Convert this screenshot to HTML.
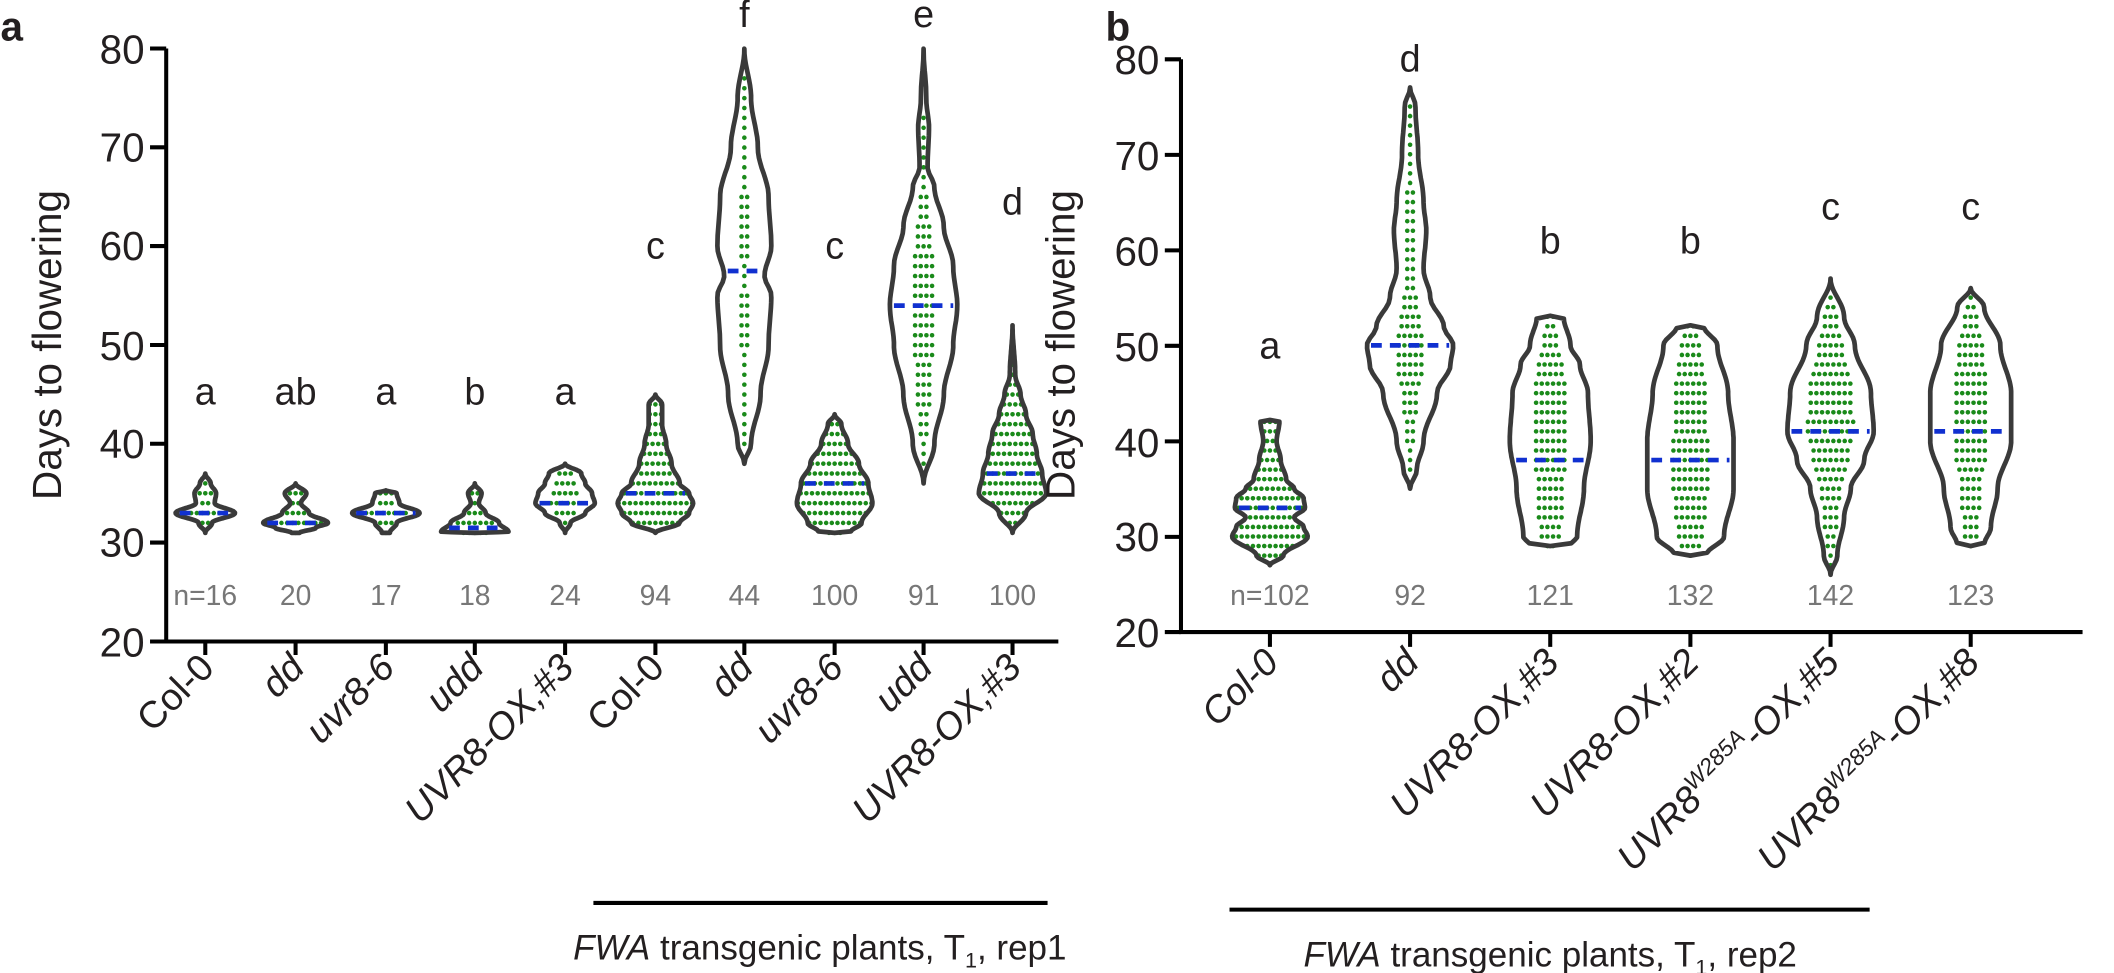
<!DOCTYPE html>
<html><head><meta charset="utf-8"><style>
html,body{margin:0;padding:0;background:#fff;}
svg{display:block;}
text{font-family:"Liberation Sans",Arial,sans-serif;fill:#231f20;}
.tk{font-size:30px;text-anchor:end;}
.lt{font-size:28px;text-anchor:middle;}
.n{font-size:21px;fill:#777;text-anchor:middle;}
.xl{font-size:28px;text-anchor:end;}
.it{font-style:italic;}
</style></head><body>
<svg id="s" width="2114" height="973" viewBox="0 0 1568 722" xmlns="http://www.w3.org/2000/svg">
<g id="viol"></g>
<!-- panel a -->
<text x="0" y="30" style="font-size:30px;font-weight:bold">a</text>
<g stroke="#000" stroke-width="3" fill="none">
<path d="M123 36 V476 H785"/>
<path d="M111 36H123 M111 109.3H123 M111 182.6H123 M111 256H123 M111 329.3H123 M111 402.6H123 M111 476H123"/>
<path d="M152 476v10 M219 476v10 M286 476v10 M352 476v10 M419 476v10 M486 476v10 M552 476v10 M619 476v10 M685 476v10 M751 476v10"/>
<path d="M440 670H777"/>
</g>
<text class="tk" x="107" y="47">80</text><text class="tk" x="107" y="120">70</text><text class="tk" x="107" y="193">60</text><text class="tk" x="107" y="267">50</text><text class="tk" x="107" y="340">40</text><text class="tk" x="107" y="413">30</text><text class="tk" x="107" y="487">20</text>
<text transform="translate(45,256) rotate(-90)" style="font-size:30px;text-anchor:middle">Days to flowering</text>
<text class="lt" x="152" y="300">a</text><text class="lt" x="219" y="300">ab</text><text class="lt" x="286" y="300">a</text><text class="lt" x="352" y="300">b</text><text class="lt" x="419" y="300">a</text><text class="lt" x="486" y="192">c</text><text class="lt" x="552" y="20">f</text><text class="lt" x="619" y="192">c</text><text class="lt" x="685" y="20">e</text><text class="lt" x="751" y="159">d</text>
<text class="n" x="152" y="449">n=16</text><text class="n" x="219" y="449">20</text><text class="n" x="286" y="449">17</text><text class="n" x="352" y="449">18</text><text class="n" x="419" y="449">24</text><text class="n" x="486" y="449">94</text><text class="n" x="552" y="449">44</text><text class="n" x="619" y="449">100</text><text class="n" x="685" y="449">91</text><text class="n" x="751" y="449">100</text>
<text class="xl" transform="translate(160,497) rotate(-45)">Col-0</text>
<text class="xl it" transform="translate(227,497) rotate(-45)">dd</text>
<text class="xl it" transform="translate(294,497) rotate(-45)">uvr8-6</text>
<text class="xl it" transform="translate(360,497) rotate(-45)">udd</text>
<text class="xl it" transform="translate(427,497) rotate(-45)">UVR8-OX,#3</text>
<text class="xl" transform="translate(494,497) rotate(-45)">Col-0</text>
<text class="xl it" transform="translate(560,497) rotate(-45)">dd</text>
<text class="xl it" transform="translate(627,497) rotate(-45)">uvr8-6</text>
<text class="xl it" transform="translate(693,497) rotate(-45)">udd</text>
<text class="xl it" transform="translate(759,497) rotate(-45)">UVR8-OX,#3</text>
<text x="608" y="712" style="font-size:26px;text-anchor:middle"><tspan font-style="italic">FWA</tspan> transgenic plants, T<tspan font-size="16" dy="6">1</tspan><tspan dy="-6">, rep1</tspan></text>
<!-- panel b -->
<text x="820" y="30" style="font-size:30px;font-weight:bold">b</text>
<g stroke="#000" stroke-width="3" fill="none">
<path d="M876 44 V469 H1545"/>
<path d="M864 44H876 M864 114.9H876 M864 185.8H876 M864 256.6H876 M864 327.5H876 M864 398.4H876 M864 469H876"/>
<path d="M942 469v11 M1046 469v11 M1150 469v11 M1254 469v11 M1358 469v11 M1462 469v11"/>
<path d="M912 675H1387"/>
</g>
<text class="tk" x="860" y="55">80</text><text class="tk" x="860" y="126">70</text><text class="tk" x="860" y="197">60</text><text class="tk" x="860" y="268">50</text><text class="tk" x="860" y="339">40</text><text class="tk" x="860" y="409">30</text><text class="tk" x="860" y="480">20</text>
<text transform="translate(797,256) rotate(-90)" style="font-size:30px;text-anchor:middle">Days to flowering</text>
<text class="lt" x="942" y="266">a</text><text class="lt" x="1046" y="53">d</text><text class="lt" x="1150" y="188">b</text><text class="lt" x="1254" y="188">b</text><text class="lt" x="1358" y="163">c</text><text class="lt" x="1462" y="163">c</text>
<text class="n" x="942" y="449">n=102</text><text class="n" x="1046" y="449">92</text><text class="n" x="1150" y="449">121</text><text class="n" x="1254" y="449">132</text><text class="n" x="1358" y="449">142</text><text class="n" x="1462" y="449">123</text>
<text class="xl it" transform="translate(950,493) rotate(-45)">Col-0</text>
<text class="xl it" transform="translate(1054,493) rotate(-45)">dd</text>
<text class="xl it" transform="translate(1158,493) rotate(-45)">UVR8-OX,#3</text>
<text class="xl it" transform="translate(1262,493) rotate(-45)">UVR8-OX,#2</text>
<text class="xl it" transform="translate(1366,493) rotate(-45)">UVR8<tspan font-size="17" dy="-11">W285A</tspan><tspan dy="11">-OX,#5</tspan></text>
<text class="xl it" transform="translate(1470,493) rotate(-45)">UVR8<tspan font-size="17" dy="-11">W285A</tspan><tspan dy="11">-OX,#8</tspan></text>
<text x="1150" y="717" style="font-size:26px;text-anchor:middle"><tspan font-style="italic">FWA</tspan> transgenic plants, T<tspan font-size="16" dy="6">1</tspan><tspan dy="-6">, rep2</tspan></text>
</svg>
<script>
var NS="http://www.w3.org/2000/svg",G=document.getElementById("viol");
function ya(v){return 476-(v-20)*7.33;}
function yb(v){return 469-(v-20)*7.09;}
var A=[
[152,[[31,0],[32,5],[33,22],[34,7],[35,8],[36,4],[37,0]],33,16],
[219,[[31,3],[31.5,15],[32,24],[33,10],[34,4],[35,8],[36,0]],32,20],
[286,[[31,3],[32,8],[33,25],[34,10],[35,8],[35.3,0]],33,17],
[352,[[31,0],[31.1,25],[32,18],[33,8],[34,3],[35,5],[36,0]],31.5,18],
[419,[[31,0],[32,4],[33,15],[34,22],[35,20],[36,15],[37,12],[38,0]],34,24],
[486,[[31,0],[32,18],[33,25],[34,28],[35,25],[36,18],[38,12],[40,8],[42,5],[44,5],[45,0]],35,94],
[552,[[38,0],[40,5],[45,12],[50,18],[55,20],[57,15],[60,20],[65,18],[70,10],[75,5],[80,0]],57.5,44],
[619,[[31,0],[31.1,12],[32,20],[34,28],[36,25],[38,18],[40,10],[42,5],[43,0]],36,100],
[685,[[36,0],[40,8],[45,15],[50,22],[54,25],[58,22],[62,15],[66,8],[68,3],[72,4],[75,2],[80,0]],54,91],
[751,[[31,0],[33,10],[35,25],[37,22],[39,18],[41,15],[43,10],[45,6],[47,2],[52,0]],37,100]];
var B=[
[942,[[27,0],[28,10],[30,28],[31,25],[32,18],[33,26],[34,25],[35,18],[36,12],[38,8],[40,5],[42,7],[42.2,0]],33,102],
[1046,[[35,0],[37,5],[40,10],[45,20],[48,30],[50,32],[52,25],[55,15],[58,10],[62,12],[65,10],[70,6],[75,4],[77,0]],50,92],
[1150,[[29,0],[29.1,15],[30,20],[35,25],[40,30],[45,28],[48,22],[50,15],[53,10],[53.1,0]],38,121],
[1254,[[28,0],[28.1,12],[30,25],[35,32],[40,32],[45,28],[50,20],[52,10],[52.1,0]],38,132],
[1358,[[26,0],[28,5],[32,10],[35,15],[38,25],[41,32],[45,30],[50,18],[53,10],[57,0]],41,142],
[1462,[[29,0],[29.1,10],[31,15],[35,20],[40,30],[45,30],[50,22],[54,10],[56,0]],41,123]];
function w(p,v){for(var i=0;i<p.length-1;i++){if(v>=p[i][0]&&v<=p[i+1][0]){var t=(v-p[i][0])/(p[i+1][0]-p[i][0]);t=(1-Math.cos(t*Math.PI))/2;return p[i][1]+(p[i+1][1]-p[i][1])*t;}}return 0;}
function el(n,a){var e=document.createElementNS(NS,n);for(var k in a)e.setAttribute(k,a[k]);G.appendChild(e);return e;}
function draw(L,yf){L.forEach(function(c){var x=c[0],p=c[1],lo=p[0][0],hi=p[p.length-1][0],N=c[3];
var R=[],Lf=[];for(var v=lo;v<=hi+1e-6;v+=(hi-lo)/80){var h=w(p,v);R.push((x+h).toFixed(1)+","+yf(v).toFixed(1));Lf.unshift((x-h).toFixed(1)+","+yf(v).toFixed(1));}
var d="M"+R.join(" L")+" L"+Lf.join(" L")+"Z";
var rows=[],S=0;for(var v=Math.ceil(lo);v<=Math.floor(hi);v++){var h=w(p,Math.min(Math.max(v,lo+0.05),hi-0.05));rows.push([v,h]);S+=h;}
rows.forEach(function(r){var cnt=Math.round(N*r[1]/S);if(cnt<1&&r[1]>3)cnt=1;var maxc=Math.max(1,Math.floor(2*r[1]/4.2)+1);cnt=Math.min(cnt,maxc);
for(var k=0;k<cnt;k++){el("circle",{cx:x+(k-(cnt-1)/2)*4.2,cy:yf(r[0]),r:1.7,fill:"#1a8a1a"});}});
el("path",{d:d,fill:"none",stroke:"#3a3a3a","stroke-width":3.5,"stroke-linejoin":"round"});
var hm=w(p,c[2]);el("line",{x1:x-hm+3,x2:x+hm-3,y1:yf(c[2]),y2:yf(c[2]),stroke:"#1030d0","stroke-width":3.5,"stroke-dasharray":"8,6"});
});}
draw(A,ya);draw(B,yb);
</script>
</body></html>
